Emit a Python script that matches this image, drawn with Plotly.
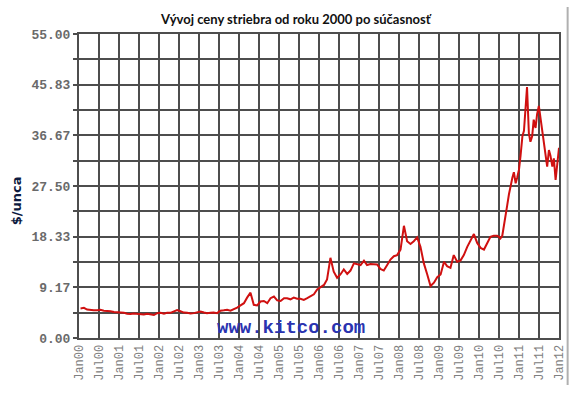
import pandas as pd
import plotly.graph_objects as go

# Monthly silver price (USD/oz), mid-month, Jan 2000 .. Jun 2010
monthly_prices = [
    # 2000
    5.35, 5.45, 5.15, 5.05, 5.0, 5.0, 5.1, 4.95, 4.95, 4.85, 4.7, 4.65,
    # 2001
    4.7, 4.55, 4.4, 4.35, 4.45, 4.35, 4.25, 4.25, 4.4, 4.25, 4.15, 4.5,
    # 2002
    4.55, 4.4, 4.55, 4.55, 4.75, 5.05, 4.85, 4.6, 4.55, 4.45, 4.5, 4.6,
    # 2003
    4.8, 4.6, 4.5, 4.55, 4.6, 4.5, 4.95, 5.0, 5.1, 4.95, 5.2, 5.5,
    # 2004
    5.9, 6.3, 7.3, 8.2, 6.0, 5.9, 6.6, 6.7, 6.3, 7.2, 7.5, 6.8,
    # 2005
    6.7, 7.2, 7.2, 7.0, 7.3, 7.1, 7.1, 6.9, 7.2, 7.5, 7.9, 8.8,
    # 2006
    9.2, 9.6, 10.6, 14.5, 12.0, 10.9, 11.5, 12.4, 11.6, 12.2, 13.5, 13.4,
    # 2007
    13.2, 14.0, 13.2, 13.4, 13.4, 13.3, 12.5, 12.2, 13.2, 14.2, 14.8, 15.0,
    # 2008
    16.0, 20.3, 17.5, 17.0, 17.5, 18.2, 16.5, 13.5, 11.5, 9.4, 10.0, 11.0,
    # 2009
    11.5, 13.8, 13.0, 12.7, 15.0, 13.8, 14.0, 15.0, 16.5, 17.5, 18.8, 17.2,
    # 2010 (Jan-Jun)
    16.3, 16.0, 17.2, 18.3, 18.5, 18.5,
]
monthly_dates = pd.date_range("2000-01-01", periods=len(monthly_prices), freq="MS") + pd.Timedelta(days=14)

# Semi-monthly prices (1st and 15th), Jul 2010 .. Jan 2012
semi_prices = [
    # 2010 Jul-Dec
    18.3, 18.0, 18.5, 20.0, 22.0, 24.0, 26.0, 27.5, 29.0, 30.0, 28.0, 29.0,
    # 2011
    30.5, 33.0, 36.5, 37.5, 41.0, 45.4, 37.0, 35.5, 36.5, 39.5, 38.0, 40.5,
    42.0, 40.0, 37.0, 35.0, 32.5, 31.0, 34.0, 33.0, 31.0, 32.5, 28.6, 31.0,
    # 2012
    34.4, 33.0,
]
semi_dates = pd.date_range("2010-07-01", periods=len(semi_prices), freq="SMS")

dates = list(monthly_dates) + list(semi_dates)
prices = monthly_prices + semi_prices

x_tick_vals = pd.date_range("2000-01-01", "2012-01-01", freq="6MS")
x_tick_text = [
    "Jan00", "Jul00", "Jan01", "Jul01", "Jan02", "Jul02", "Jan03", "Jul03",
    "Jan04", "Jul04", "Jan05", "Jul05", "Jan06", "Jul06", "Jan07", "Jul07",
    "Jan08", "Jul08", "Jan09", "Jul09", "Jan10", "Jul10", "Jan11", "Jul11",
    "Jan12",
]
y_tick_vals = [i * 55 / 12 for i in range(13)]
y_tick_text = ["0.00", "", "9.17", "", "18.33", "", "27.50", "", "36.67", "", "45.83", "", "55.00"]

title_text = "Vývoj ceny striebra od roku 2000 po súčasnosť"
y_title = "$/unca"
watermark = "www.kitco.com"

fig = go.Figure()
fig.add_trace(go.Scatter(
    x=dates, y=prices, mode="lines",
    line=dict(color="#d01010", width=2),
    hoverinfo="skip", showlegend=False,
))

grid_col = "#4d4d4d"
tick_font = dict(family="Liberation Mono", size=13, color="#6a6a6a", weight="bold")

fig.update_xaxes(
    range=["2000-01-01", "2012-01-01"],
    tickvals=x_tick_vals, ticktext=x_tick_text, tickangle=-90,
    tickfont=dict(family="Liberation Mono", size=12, color="#808080"),
    showgrid=True, gridcolor=grid_col, gridwidth=2,
    showline=True, linecolor=grid_col, linewidth=2, mirror=True,
    ticks="", zeroline=False,
)
fig.update_yaxes(
    range=[0, 55],
    tickvals=y_tick_vals, ticktext=y_tick_text,
    tickfont=tick_font,
    showgrid=True, gridcolor=grid_col, gridwidth=2,
    showline=True, linecolor=grid_col, linewidth=2, mirror=True,
    ticks="outside", ticklen=4, tickcolor=grid_col, tickwidth=2,
    zeroline=False,
)

fig.add_annotation(
    text=watermark, xref="paper", yref="paper", x=0.283, y=0.033,
    xanchor="left", yanchor="middle", showarrow=False,
    font=dict(family="Liberation Mono", size=19, color="#2a33b0", weight="bold"),
)
fig.add_annotation(
    text=y_title, xref="paper", yref="paper", x=-0.131, y=0.45,
    xanchor="center", yanchor="middle", showarrow=False, textangle=-90,
    font=dict(family="DejaVu Sans", size=13, color="#0d1a40", weight="bold"),
)
fig.add_annotation(
    text=title_text, xref="paper", yref="paper", x=0.453, y=1.05,
    xanchor="center", yanchor="middle", showarrow=False,
    font=dict(family="Lato", size=13, color="#111111", weight="bold"),
)
fig.add_shape(
    type="line", xref="paper", yref="paper", x0=1.018, x1=1.018, y0=1.089, y1=-0.155,
    line=dict(color="#b0b0b0", width=2),
)

fig.update_layout(
    width=579, height=394,
    margin=dict(l=79, r=12, t=34, b=56),
    paper_bgcolor="white", plot_bgcolor="white",
)

fig.write_html("out.html")
